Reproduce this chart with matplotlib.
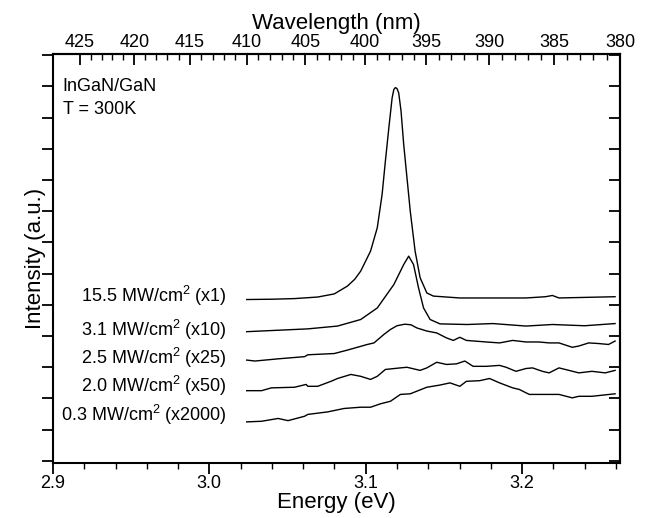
import numpy as np
import matplotlib
matplotlib.use("Agg")
import matplotlib.pyplot as plt
from matplotlib.ticker import FixedLocator, MultipleLocator, NullFormatter

plt.rcParams["font.family"] = ["Liberation Sans", "DejaVu Sans"]
plt.rcParams["mathtext.fontset"] = "custom"
plt.rcParams["mathtext.rm"] = "Liberation Sans"

# spectra (energy in eV, intensity offset in a.u.)
e_155 = [3.0239, 3.0400, 3.0545, 3.0693, 3.0799, 3.0883, 3.0930, 3.0968, 3.1031, 3.1074,
         3.1105, 3.1126, 3.1148, 3.1169, 3.1180, 3.1190, 3.1200, 3.1211, 3.1226, 3.1243,
         3.1264, 3.1285, 3.1316, 3.1348, 3.1391, 3.1433, 3.1602, 3.1813, 3.2025, 3.2150,
         3.2194, 3.2236, 3.2595]
i_155 = [5.17, 5.18, 5.20, 5.25, 5.35, 5.60, 5.82, 6.08, 6.72, 7.47,
         8.54, 9.61, 10.67, 11.63, 11.90, 11.96, 11.93, 11.79, 11.21, 10.14,
         9.07, 8.00, 6.72, 5.87, 5.38, 5.28, 5.22, 5.22, 5.22, 5.26,
         5.30, 5.22, 5.26]

e_31 = [3.0239, 3.0630, 3.0820, 3.0968, 3.1074, 3.1180, 3.1243, 3.1275, 3.1306, 3.1338,
        3.1370, 3.1412, 3.1475, 3.1650, 3.1813, 3.2025, 3.2194, 3.2400, 3.2595]
i_31 = [4.14, 4.23, 4.32, 4.53, 4.90, 5.65, 6.29, 6.56, 6.29, 5.54,
        4.90, 4.53, 4.39, 4.37, 4.40, 4.32, 4.37, 4.33, 4.40]

e_25 = [3.0239, 3.0292, 3.0440, 3.0609, 3.0630, 3.0799, 3.0883, 3.1010, 3.1053, 3.1116,
        3.1158, 3.1200, 3.1250, 3.1290, 3.1327, 3.1391, 3.1454, 3.1517, 3.1560, 3.1602,
        3.1644, 3.1771, 3.1856, 3.1940, 3.2025, 3.2109, 3.2173, 3.2236, 3.2321, 3.2363,
        3.2426, 3.2490, 3.2553, 3.2595]
i_25 = [3.23, 3.20, 3.27, 3.34, 3.40, 3.44, 3.55, 3.73, 3.78, 4.05,
        4.21, 4.33, 4.38, 4.36, 4.26, 4.16, 4.10, 3.94, 3.86, 3.96,
        3.86, 3.81, 3.78, 3.86, 3.81, 3.81, 3.78, 3.78, 3.64, 3.68,
        3.78, 3.76, 3.73, 3.84]

e_20 = [3.0239, 3.0334, 3.0397, 3.0545, 3.0619, 3.0630, 3.0693, 3.0778, 3.0820, 3.0905,
        3.0968, 3.1031, 3.1074, 3.1126, 3.1222, 3.1264, 3.1348, 3.1391, 3.1454, 3.1517,
        3.1581, 3.1634, 3.1687, 3.1771, 3.1856, 3.1898, 3.1961, 3.2025, 3.2067, 3.2130,
        3.2173, 3.2236, 3.2300, 3.2363, 3.2447, 3.2532, 3.2595]
i_20 = [2.25, 2.25, 2.34, 2.36, 2.45, 2.39, 2.39, 2.55, 2.64, 2.77,
        2.71, 2.61, 2.71, 2.93, 2.98, 3.00, 2.90, 2.98, 3.16, 3.09,
        3.11, 3.20, 3.03, 3.03, 3.06, 3.00, 2.87, 2.96, 2.98, 2.87,
        2.82, 2.98, 2.90, 2.82, 2.87, 2.82, 2.90]

e_03 = [3.0239, 3.0334, 3.0440, 3.0503, 3.0609, 3.0630, 3.0757, 3.0862, 3.0968, 3.1031,
        3.1095, 3.1158, 3.1222, 3.1285, 3.1391, 3.1475, 3.1539, 3.1602, 3.1644, 3.1729,
        3.1792, 3.1856, 3.1940, 3.1982, 3.2046, 3.2130, 3.2236, 3.2321, 3.2363, 3.2447,
        3.2595]
i_03 = [1.25, 1.27, 1.36, 1.29, 1.43, 1.49, 1.57, 1.68, 1.72, 1.72,
        1.83, 1.91, 2.13, 2.15, 2.36, 2.43, 2.50, 2.39, 2.55, 2.57,
        2.64, 2.50, 2.34, 2.29, 2.13, 2.13, 2.13, 2.02, 2.07, 2.07,
        2.15]

labels = ["15.5 MW/cm$^{\\mathregular{2}}$ (x1)",
          "3.1 MW/cm$^{\\mathregular{2}}$ (x10)",
          "2.5 MW/cm$^{\\mathregular{2}}$ (x25)",
          "2.0 MW/cm$^{\\mathregular{2}}$ (x50)",
          "0.3 MW/cm$^{\\mathregular{2}}$ (x2000)"]
label_y = [5.29, 4.20, 3.30, 2.40, 1.47]

wl_ticks = [380, 385, 390, 395, 400, 405, 410, 415, 420, 425]

fig = plt.figure(figsize=(6.46, 5.18), dpi=100)
ax = fig.add_axes([0.082, 0.106, 0.878, 0.790])

for e, i in [(e_155, i_155), (e_31, i_31), (e_25, i_25), (e_20, i_20), (e_03, i_03)]:
    ax.plot(e, i, color="black", lw=1.0)

for lab, y in zip(labels, label_y):
    ax.text(3.0112, y, lab, ha="right", va="center", fontsize=13)

ax.text(2.9063, 11.98, "InGaN/GaN", ha="left", va="center", fontsize=13)
ax.text(2.9063, 11.27, "T = 300K", ha="left", va="center", fontsize=13)

ax.set_xlim(2.9, 1239.84 / 380)
ax.set_ylim(-0.07, 13.04)
ax.xaxis.set_minor_locator(MultipleLocator(0.02))
ax.set_xticks([2.9, 3.0, 3.1, 3.2])
ax.set_xticklabels(["2.9", "3.0", "3.1", "3.2"])
ax.set_yticks(range(0, 14))
ax.yaxis.set_major_formatter(NullFormatter())
ax.tick_params(axis="x", which="major", direction="out", length=8, width=1.3, labelsize=13, pad=0.5)
ax.tick_params(axis="x", which="minor", direction="out", length=4, width=1.0)
ax.tick_params(axis="y", which="major", direction="out", length=8, width=1.3, right=False)

for s in ax.spines.values():
    s.set_linewidth(1.5)

ax.set_xlabel("Energy (eV)", fontsize=16)
ax.xaxis.set_label_coords(0.5, -0.071)
ax.set_ylabel("Intensity (a.u.)", fontsize=16)
ax.yaxis.set_label_coords(-0.012, 0.5)

# wavelength axis on top
top = ax.secondary_xaxis("top", functions=(lambda e: 1239.84 / np.asarray(e, float),
                                           lambda w: 1239.84 / np.asarray(w, float)))
top.set_xticks(wl_ticks)
top.set_xticklabels([str(w) for w in wl_ticks])
top.xaxis.set_minor_locator(FixedLocator(np.arange(380, 426, 1)))
top.tick_params(axis="x", which="major", direction="in", length=8, width=1.3, labelsize=13, pad=2)
top.tick_params(axis="x", which="minor", direction="in", length=4, width=1.0)
top.set_xlabel("Wavelength (nm)", fontsize=16, labelpad=4)
top.spines["top"].set_linewidth(1.5)

# right side ticks point inward
right = ax.secondary_yaxis("right")
right.set_yticks(range(0, 14))
right.yaxis.set_major_formatter(NullFormatter())
right.tick_params(axis="y", which="major", direction="in", length=8, width=1.3)
right.spines["right"].set_linewidth(1.5)

fig.savefig("out.png", dpi=100)
